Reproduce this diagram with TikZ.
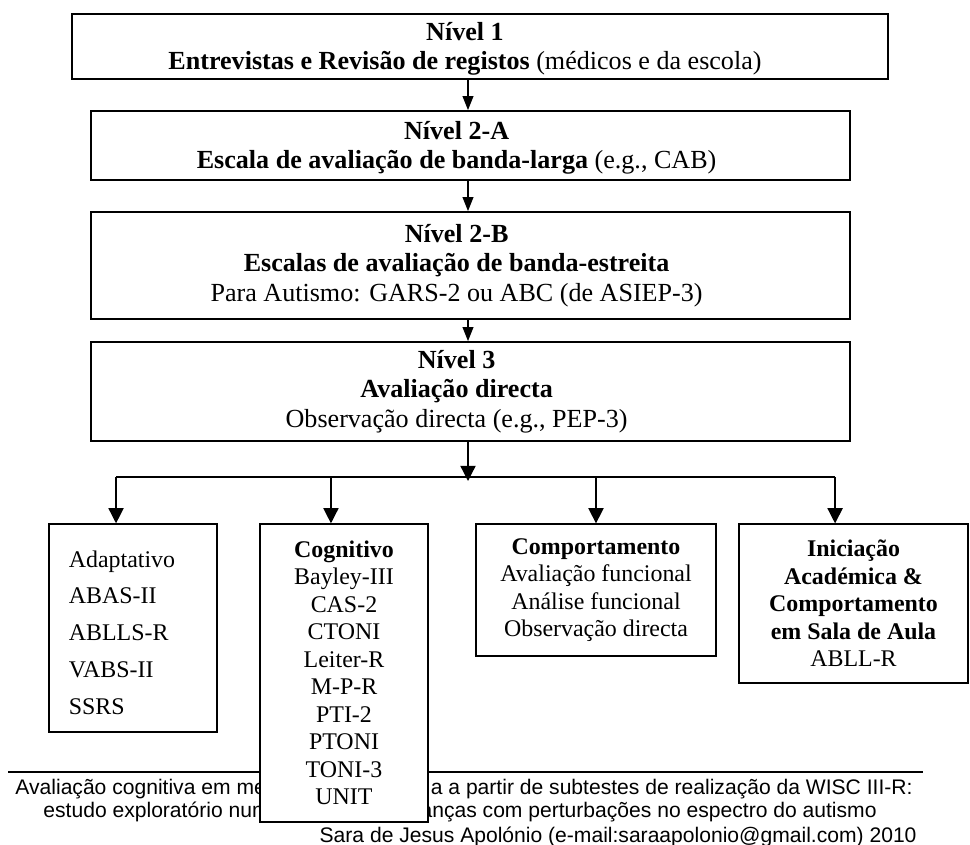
\documentclass[tikz,border=0pt]{standalone}
\usepackage{fontspec}
\setmainfont{Liberation Serif}
\newfontfamily\footfont{Liberation Sans}
\usetikzlibrary{arrows.meta, calc}

\begin{document}
\begin{tikzpicture}[x = 0.46pt, y = -0.46pt,
	level/.style = {draw, line width = 0.8pt, inner sep = 0pt},
	leveltext/.style = {align = center, inner sep = 0pt, font = \fontsize{12}{13.6}\selectfont},
	group/.style = {draw, line width = 0.6pt, fill = white, inner sep = 0pt, align = center, font = \fontsize{11}{12.65}\selectfont},
	foot/.style = {inner sep = 0pt, font = \footfont\fontsize{9.7}{11}\selectfont},
	toparrow/.style = {line width = 0.6pt, -{Triangle[width = 5pt, length = 6.5pt]}},
	grouparrow/.style = {line width = 0.6pt, -{Triangle[width = 7pt, length = 7pt]}}]

	\useasboundingbox (0, 0) rectangle (970, 845);

	% Footer (the Cognitivo box lies over it)

	\draw [line width = 0.6pt] (8, 772) -- (923, 772);
	\node [foot, anchor = base west] (foot1a) at (15, 794) {Avaliação cognitiva em me};
	\node [foot, anchor = base east] (foot1b) at (913, 794) {a a partir de subtestes de realização da WISC III-R:};
	\node [foot, anchor = base west] (foot2a) at (43, 817) {estudo exploratório num};
	\node [foot, anchor = base east] (foot2b) at (877, 817) {anças com perturbações no espectro do autismo};
	\node [foot, anchor = base east] (foot3) at (917, 842) {Sara de Jesus Apolónio (e-mail:saraapolonio@gmail.com) 2010};

	% The levels

	\node [level, minimum width = 375.4pt, minimum height = 29.9pt] (n1) at (480, 46.5) {};
	\node [leveltext, xshift = -6.9pt, yshift = -1pt] (n1text) at (n1) {\textbf{Nível 1}\\\textbf{Entrevistas e Revisão de registos} (médicos e da escola)};

	\node [level, minimum width = 349.1pt, minimum height = 31.7pt] (n2a) at (470.5, 145.5) {};
	\node [leveltext, xshift = -6.4pt, yshift = -1pt] (n2atext) at (n2a) {\textbf{Nível 2-A}\\\textbf{Escala de avaliação de banda-larga} (e.g., CAB)};

	\node [level, minimum width = 349.1pt, minimum height = 49.2pt] (n2b) at (470.5, 265.5) {};
	\node [leveltext, xshift = -6.4pt] (n2btext) at (n2b) {\textbf{Nível 2-B}\\\textbf{Escalas de avaliação de banda-estreita}\\Para Autismo: GARS-2 ou ABC (de ASIEP-3)};

	\node [level, minimum width = 349.1pt, minimum height = 45.5pt] (n3) at (470.5, 391.5) {};
	\node [leveltext, xshift = -6.4pt] (n3text) at (n3) {\textbf{Nível 3}\\\textbf{Avaliação directa}\\Observação directa (e.g., PEP-3)};

	% The four areas

	\node [group, align = left, text width = 59pt, inner xsep = 9.2pt, minimum height = 95.7pt, font = \fontsize{11}{17}\selectfont] (adapt) at (133, 628) {\rule{0pt}{12pt}Adaptativo\\ABAS-II\\ABLLS-R\\VABS-II\\SSRS};
	\node [group, minimum width = 77.3pt, minimum height = 137.1pt] (cogn) at (344, 673) {\textbf{Cognitivo}\\Bayley-III\\CAS-2\\CTONI\\Leiter-R\\M-P-R\\PTI-2\\PTONI\\TONI-3\\UNIT};
	\node [group, minimum width = 110.4pt, minimum height = 60.7pt] (comp) at (596, 590) {\textbf{Comportamento}\\Avaliação funcional\\Análise funcional\\Observação directa};
	\node [group, minimum width = 105.3pt, minimum height = 73.1pt] (inic) at (853.5, 603.5) {\textbf{Iniciação}\\\textbf{Académica \&}\\\textbf{Comportamento}\\\textbf{em Sala de Aula}\\ABLL-R};

	% Arrows

	\coordinate (bus) at (468, 477);
	\coordinate (adaptin) at ($(adapt.north west)!0.4!(adapt.north east)$);
	\coordinate (cognin) at ([xshift = -6pt] cogn.north);
	\coordinate (inicin) at ($(inic.north west)!0.42!(inic.north east)$);

	\draw [toparrow] (n1.south -| bus) -- (n2a.north -| bus);
	\draw [toparrow] (n2a.south -| bus) -- (n2b.north -| bus);
	\draw [toparrow] (n2b.south -| bus) -- (n3.north -| bus);
	\draw [grouparrow] (n3.south -| bus) -- ($(bus) + (0, 4)$);

	\draw [line width = 0.6pt] (adaptin |- bus) -- (inicin |- bus);
	\draw [grouparrow] (adaptin |- bus) -- (adaptin);
	\draw [grouparrow] (cognin |- bus) -- (cognin);
	\draw [grouparrow] (comp.north |- bus) -- (comp.north);
	\draw [grouparrow] (inicin |- bus) -- (inicin);

\end{tikzpicture}
\end{document}
